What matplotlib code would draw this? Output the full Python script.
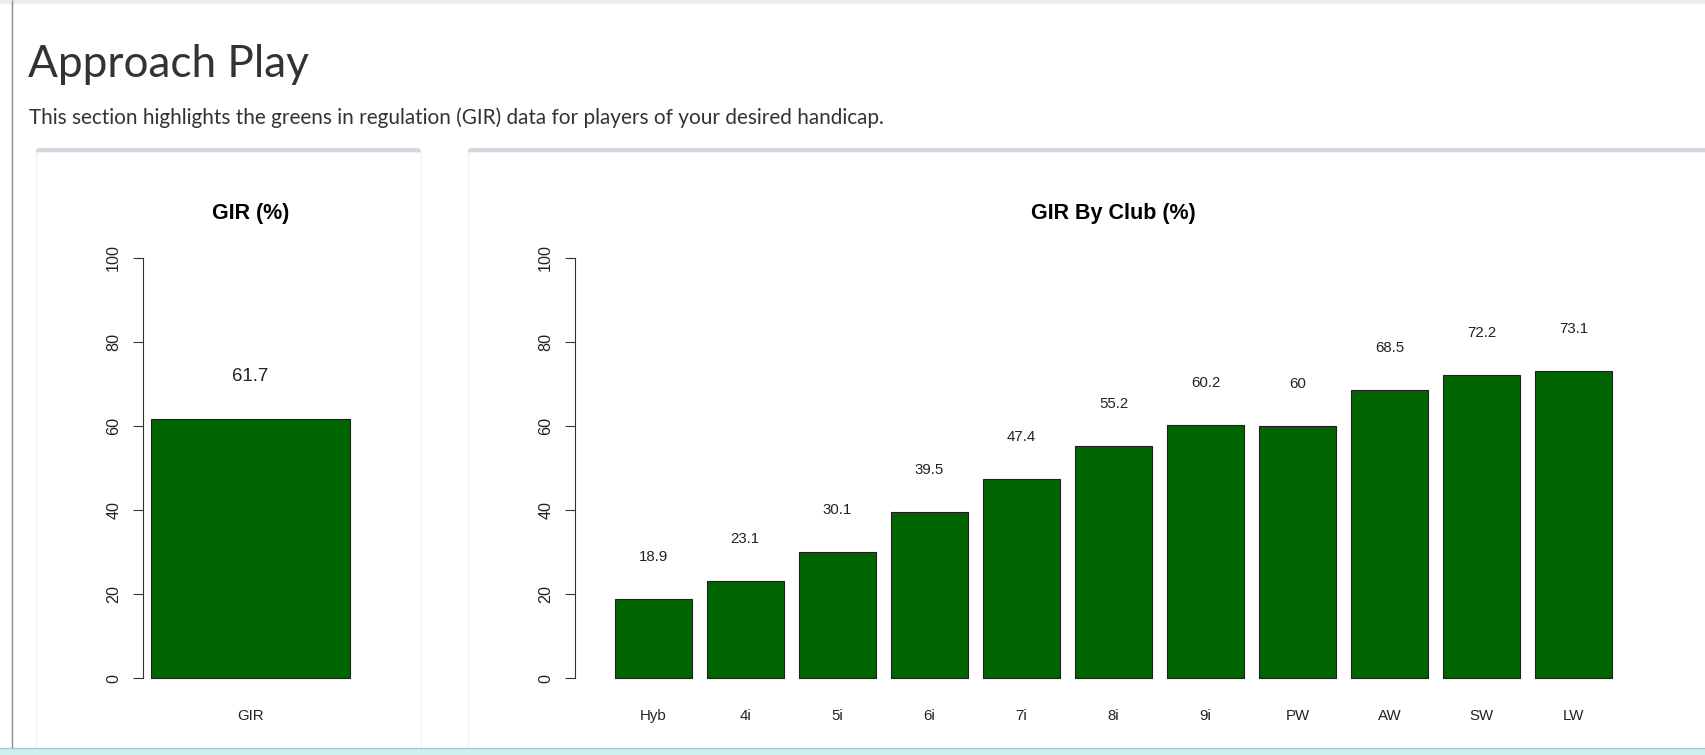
import matplotlib
matplotlib.use("Agg")
import matplotlib.pyplot as plt
from matplotlib.patches import Rectangle, FancyBboxPatch

# ---------------- data ----------------
page_title = "Approach Play"
page_subtitle = ("This section highlights the greens in regulation (GIR) data "
                 "for players of your desired handicap.")
gir_title = "GIR (%)"
gir_labels = ["GIR"]
gir_values = [61.7]
club_title = "GIR By Club (%)"
clubs = ["Hyb", "4i", "5i", "6i", "7i", "8i", "9i", "PW", "AW", "SW", "LW"]
club_values = [18.9, 23.1, 30.1, 39.5, 47.4, 55.2, 60.2, 60, 68.5, 72.2, 73.1]
y_ticks = [0, 20, 40, 60, 80, 100]

# ---------------- figure / page ----------------
W, H = 1706, 755
fig = plt.figure(figsize=(W / 100, H / 100), dpi=100)
fig.patch.set_facecolor("white")

bg = fig.add_axes([0, 0, 1, 1], zorder=0)
bg.set_xlim(0, W)
bg.set_ylim(H, 0)
bg.axis("off")

# top shadow
bg.add_patch(Rectangle((0, 0), W, 3, fc="#ececec", ec="none"))
bg.add_patch(Rectangle((0, 3), W, 2, fc="#f6f6f6", ec="none"))
# left vertical rule
bg.plot([12, 12], [0, 748], color="#8c8c8c", lw=1.0, solid_capstyle="butt")

# panels (box with grey top border)
def panel(x0, x1, y0=148, y1=800):
    bg.add_patch(FancyBboxPatch((x0, y0), x1 - x0, y1 - y0,
                                boxstyle="round,pad=0,rounding_size=4",
                                fc="#d2d6de", ec="none"))
    bg.add_patch(Rectangle((x0, y0 + 3.5), x1 - x0, y1 - y0,
                           fc="white", ec="#f0f1f3", lw=0.8))

panel(36, 421)
panel(468, 1760)

# bottom teal strip
bg.add_patch(Rectangle((0, 748), W, 10, fc="#cdf0ee", ec="none"))
bg.plot([0, W], [748, 748], color="#a9c9c9", lw=1.0)

# header texts (fit to measured widths)
t1 = bg.text(28, 77, page_title, fontsize=34, color="#333333",
             family="Lato", va="baseline", ha="left")
t2 = bg.text(29, 124, page_subtitle, fontsize=15, color="#333333",
             family="Lato", va="baseline", ha="left")
fig.canvas.draw()
for t, target in ((t1, 282), (t2, 856)):
    w = t.get_window_extent().width
    t.set_fontsize(t.get_fontsize() * target / w)

# ---------------- charts ----------------
CH_FONT = "Liberation Sans"
BAR_COLOR = "#006400"


def r_barplot(ax_rect, labels, values, title, val_fs):
    ax = fig.add_axes(ax_rect, zorder=2)
    ax.patch.set_alpha(0)
    n = len(values)
    centers = [0.7 + 1.2 * i for i in range(n)]
    ax.bar(centers, values, width=1.0, color=BAR_COLOR,
           edgecolor="#1e1e1e", linewidth=0.8, zorder=2)
    wl, wr = 0.2, 1.2 * n
    rng = wr - wl
    ax.set_xlim(wl - 0.04 * rng, wr + 0.04 * rng)
    ax.set_ylim(-4, 104)
    for s in ("top", "right", "bottom"):
        ax.spines[s].set_visible(False)
    ax.spines["left"].set_bounds(0, 100)
    ax.spines["left"].set_color("#333333")
    ax.spines["left"].set_linewidth(0.8)
    ax.set_yticks(y_ticks)
    ax.set_yticklabels([str(v) for v in y_ticks], rotation=90, va="center",
                       family=CH_FONT, fontsize=11.6, color="#222222")
    ax.tick_params(axis="y", direction="out", length=7.2, width=0.8,
                   color="#333333", pad=8.5)
    ax.set_xticks(centers)
    ax.set_xticklabels(labels, family=CH_FONT, fontsize=10.8, color="#222222")
    ax.tick_params(axis="x", length=0, pad=10)
    for c, v in zip(centers, values):
        ax.text(c, v + 10, f"{v:g}", ha="center", va="center",
                family=CH_FONT, fontsize=val_fs, color="#222222")
    ax.text(0.5, 1 + 28 / 454, title, transform=ax.transAxes, ha="center",
            va="center", family=CH_FONT, fontsize=15.5, fontweight="bold",
            color="#000000")
    return ax


bottom = 1 - 695 / H
height = 454 / H
r_barplot([143 / W, bottom, 215 / W, height], gir_labels, gir_values,
          gir_title, 13.4)
r_barplot([575 / W, bottom, 1077 / W, height], clubs, club_values,
          club_title, 10.8)

fig.savefig("out.png", dpi=100, facecolor="white")
